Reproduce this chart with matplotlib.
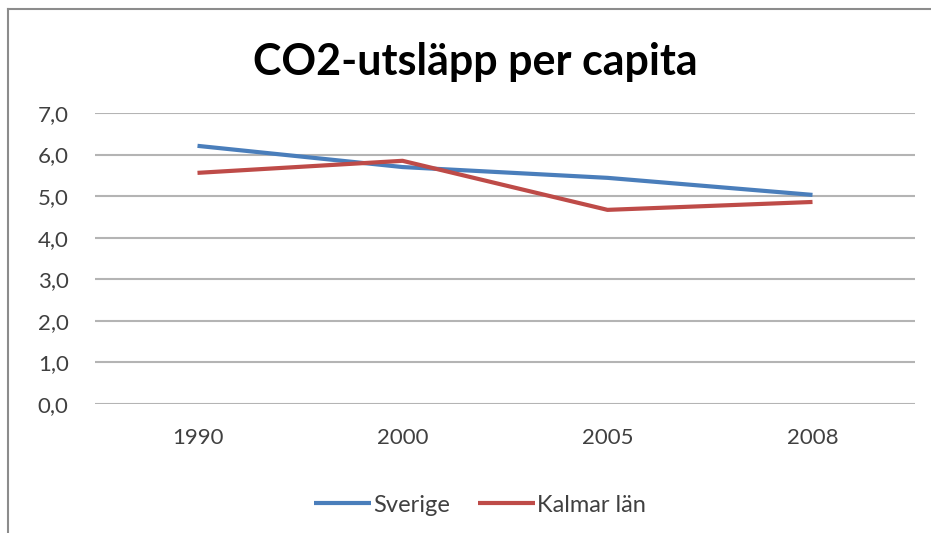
import matplotlib.pyplot as plt
from matplotlib.lines import Line2D

# Data
years = ['1990', '2000', '2005', '2008']
sverige = [6.21, 5.70, 5.44, 5.03]
kalmar = [5.56, 5.85, 4.67, 4.86]
yticks = [0, 1, 2, 3, 4, 5, 6, 7]

plt.rcParams['font.family'] = ['Lato', 'DejaVu Sans']

fig = plt.figure(figsize=(9.31, 5.33), dpi=100)
ax = fig.add_axes([95 / 931, 1 - 404 / 533, 820 / 931, 291 / 533])

# ram runt diagrammet
fig.add_artist(Line2D([8 / 931, 1], [1 - 9 / 533, 1 - 9 / 533], transform=fig.transFigure, color='#8c8c8c', lw=1.5))
fig.add_artist(Line2D([8 / 931, 8 / 931], [0, 1 - 9 / 533], transform=fig.transFigure, color='#8c8c8c', lw=1.5))

x = range(len(years))
ax.plot(x, sverige, color='#4a7ebb', lw=3, label='Sverige', solid_capstyle='butt')
ax.plot(x, kalmar, color='#be4b48', lw=3, label='Kalmar län', solid_capstyle='butt')

ax.set_xlim(-0.5, len(years) - 0.5)
ax.set_ylim(0, 7)
ax.set_xticks(list(x))
ax.set_xticklabels(years)
ax.set_yticks(yticks)
ax.set_yticklabels([f'{v:.1f}'.replace('.', ',') for v in yticks])
ax.grid(axis='y', color='#b4b4b4', lw=1.5)
ax.set_axisbelow(True)
for s in ax.spines.values():
    s.set_visible(False)
ax.tick_params(length=0, labelsize=16, colors='#404040')
ax.tick_params(axis='y', pad=19)
ax.tick_params(axis='x', pad=17)

fig.text(475 / 931, 1 - 62 / 533, 'CO2-utsläpp per capita', ha='center', va='center',
         fontsize=31, fontweight='bold', color='black')

fig.legend(loc='center', bbox_to_anchor=(480 / 931, 1 - 505 / 533), ncol=2, frameon=False,
           fontsize=17, handlelength=2.4, handletextpad=0.1, columnspacing=1.2,
           labelcolor='#404040')

fig.savefig('out.png', dpi=100)
